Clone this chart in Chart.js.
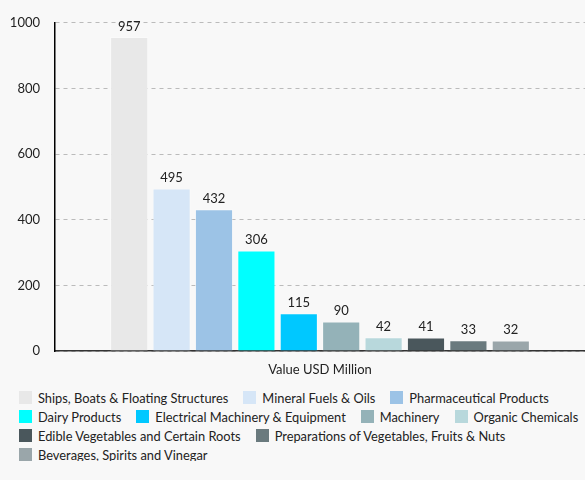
<!DOCTYPE html>
<html>
<head>
<meta charset="utf-8">
<script src="https://cdn.jsdelivr.net/npm/chart.js@4"></script>
<style>
  html, body { margin: 0; padding: 0; background: #f8f8f8; font-family: Lato, sans-serif; }
  #wrap { position: relative; width: 585px; height: 380px; }
  #legend { display: flex; flex-wrap: wrap; column-gap: 15px; row-gap: 6px;
            margin: 11px 0 0 19px; width: 570px; }
  .item { display: flex; align-items: center; height: 13px;
          font-size: 12.85px; color: #222; white-space: nowrap; }
  .box { width: 13px; height: 13px; margin-right: 6px; }
</style>
</head>
<body>
<div id="wrap"><canvas id="barchart"></canvas></div>
<div id="legend"></div>
<script>
let categories = ['Value USD Million'];
let products = [
   'Ships, Boats & Floating Structures',
   'Mineral Fuels & Oils',
   'Pharmaceutical Products',
   'Dairy Products',
   'Electrical Machinery & Equipment',
   'Machinery',
   'Organic Chemicals',
   'Edible Vegetables and Certain Roots',
   'Preparations of Vegetables, Fruits & Nuts',
   'Beverages, Spirits and Vinegar'
];
let values = [957, 495, 432, 306, 115, 90, 42, 41, 33, 32];
let colors = ['#e8e8e8', '#d6e6f7', '#9cc3e6', '#00ffff', '#00c8ff',
              '#94b2b8', '#b8d8dc', '#4a575c', '#6a7a7e', '#9aa6aa'];
let yTicks = [0, 200, 400, 600, 800, 1000];

// draw the value above each bar
let valueLabels = {
   id: 'valueLabels',
   afterDatasetsDraw(chart) {
      let ctx = chart.ctx;
      ctx.save();
      ctx.font = '13px Lato';
      ctx.fillStyle = '#222';
      ctx.textAlign = 'center';
      ctx.textBaseline = 'bottom';
      chart.data.datasets.forEach(function(ds, i) {
         chart.getDatasetMeta(i).data.forEach(function(bar, j) {
            ctx.fillText(ds.data[j], bar.x, bar.y - 4);
         });
      });
      ctx.restore();
   }
};

let datasets = [];
for (let i = 0; i < products.length; i++) {
   datasets.push({
      label: products[i],
      data: [values[i]],
      backgroundColor: colors[i],
      borderColor: 'rgba(255,255,255,0.35)',
      borderWidth: 1
   });
}

Chart.defaults.font.family = 'Lato';
Chart.defaults.font.size = 13;
Chart.defaults.color = '#222';

new Chart(document.getElementById('barchart'), {
   type: 'bar',
   data: { labels: categories, datasets: datasets },
   plugins: [valueLabels],
   options: {
      responsive: true,
      maintainAspectRatio: false,
      animation: false,
      layout: { padding: { top: 20, left: 0, right: 0, bottom: 0 } },
      plugins: {
         legend: { display: false },
         tooltip: { enabled: false }
      },
      scales: {
         x: {
            grid: { display: false, drawTicks: false },
            border: { color: '#333', width: 1.5 },
            ticks: { color: '#222', padding: 11 },
            afterFit: function(axis) { axis.height = 29; }
         },
         y: {
            min: 0,
            max: 1000,
            afterBuildTicks: function(axis) {
               axis.ticks = yTicks.map(function(v) { return { value: v }; });
            },
            afterFit: function(axis) { axis.width = 55; },
            ticks: { color: '#222', padding: 15, callback: function(v) { return String(v); } },
            grid: { color: '#bbb', drawTicks: false },
            border: {
               color: '#000',
               width: 1.5,
               // dashed grid lines, solid axis line
               dash: function(ctx) { return ctx.type === 'tick' ? [4, 4] : []; }
            }
         }
      }
   }
});

// legend built from the same arrays
let legend = document.getElementById('legend');
products.forEach(function(p, i) {
   let item = document.createElement('div');
   item.className = 'item';
   let box = document.createElement('span');
   box.className = 'box';
   box.style.background = colors[i];
   item.appendChild(box);
   item.appendChild(document.createTextNode(p));
   legend.appendChild(item);
});
</script>
</body>
</html>
